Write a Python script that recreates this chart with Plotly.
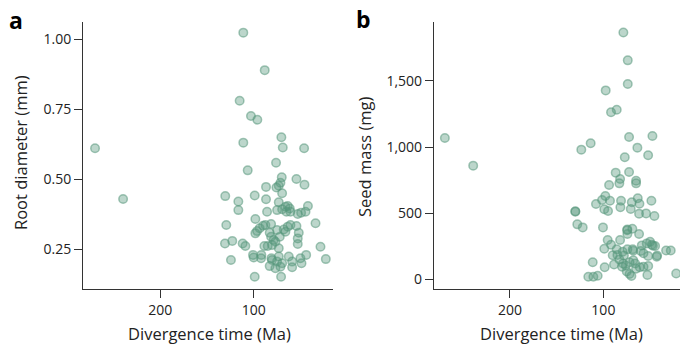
import plotly.graph_objects as go

# Panel a: divergence time (Ma) vs root diameter (mm)
a_time = [269.6, 239.6, 111.1, 88.2, 115.0, 102.9, 96.1, 111.1, 70.4, 68.9, 46.1,
          76.1, 106.4, 70.0, 71.4, 73.2, 54.3, 45.7, 86.8, 75.7, 130.4, 98.9, 86.8,
          116.4, 116.4, 69.6, 73.2, 75.0, 69.6, 66.0, 63.6, 61.4, 65.0, 60.7, 42.0,
          44.6, 52.9, 49.3, 85.7, 98.2, 33.9, 129.3, 81.4, 90.0, 93.6, 96.4, 98.2,
          87.5, 63.6, 60.7, 54.3, 51.8, 52.9, 67.9, 66.1, 75.0, 72.1, 82.9, 81.4,
          78.6, 76.8, 28.6, 130.7, 122.9, 111.8, 108.9, 88.6, 85.0, 80.4, 73.2, 52.9,
          124.3, 100.7, 100.0, 91.8, 92.1, 81.1, 80.4, 73.2, 75.0, 62.5, 58.9, 58.9,
          50.0, 48.9, 43.9, 22.9, 82.9, 76.8, 71.4, 69.6, 98.9, 70.7]
a_diam = [0.611, 0.430, 1.024, 0.890, 0.781, 0.726, 0.713, 0.631, 0.650, 0.614, 0.611,
          0.559, 0.532, 0.507, 0.488, 0.477, 0.501, 0.481, 0.473, 0.471, 0.440, 0.442, 0.429,
          0.421, 0.390, 0.450, 0.418, 0.390, 0.393, 0.402, 0.405, 0.396, 0.384, 0.384, 0.405,
          0.384, 0.376, 0.381, 0.384, 0.358, 0.343, 0.337, 0.340, 0.334, 0.325, 0.315, 0.307,
          0.337, 0.331, 0.337, 0.333, 0.309, 0.289, 0.321, 0.313, 0.319, 0.295, 0.309, 0.295,
          0.283, 0.277, 0.259, 0.271, 0.280, 0.271, 0.262, 0.262, 0.262, 0.265, 0.254, 0.269,
          0.212, 0.230, 0.221, 0.230, 0.218, 0.218, 0.212, 0.224, 0.206, 0.224, 0.206, 0.186,
          0.218, 0.200, 0.230, 0.215, 0.190, 0.182, 0.188, 0.200, 0.152, 0.152]

# Panel b: divergence time (Ma) vs seed mass (mg)
b_time = [269.6, 239.3, 78.6, 73.9, 73.9, 97.5, 85.7, 91.8, 113.6, 123.6, 72.5, 47.5,
          63.6, 52.1, 77.1, 86.8, 72.5, 82.1, 82.9, 93.9, 65.0, 65.0, 97.9, 101.4, 107.9,
          92.9, 99.0, 95.0, 81.1, 81.8, 69.6, 63.2, 61.4, 48.6, 70.7, 61.8, 54.3, 45.4,
          130.0, 130.0, 127.9, 122.1, 100.4, 74.3, 74.6, 69.0, 74.3, 61.8, 95.4, 82.1,
          91.8, 99.0, 85.7, 90.0, 79.3, 74.3, 68.6, 68.0, 58.9, 53.6, 50.0, 48.2, 44.6,
          42.9, 42.5, 57.1, 52.1, 32.9, 27.9, 111.4, 98.6, 116.1, 110.7, 106.1, 88.6,
          82.9, 85.0, 79.0, 76.0, 72.0, 68.0, 75.0, 72.0, 70.0, 65.0, 61.0, 57.0, 52.0,
          52.9, 22.1, 78.0, 66.0, 80.0, 60.0, 47.0]
b_mass = [1069, 860, 1866, 1656, 1477, 1429, 1283, 1263, 1029, 981, 1077, 1084,
          996, 938, 923, 807, 812, 759, 726, 714, 746, 726, 630, 600, 570,
          595, 530, 517, 595, 545, 583, 613, 572, 595, 532, 497, 499, 479,
          512, 515, 416, 393, 393, 378, 372, 383, 343, 343, 298, 298,
          262, 232, 227, 182, 209, 227, 227, 217, 257, 272, 285, 262, 252,
          171, 180, 197, 177, 219, 219, 129, 91, 20, 20, 28, 113,
          151, 184, 120, 105, 130, 145, 60, 40, 25, 80, 91, 96, 101,
          33, 45, 180, 120, 95, 215, 255]

fill = "rgba(88,152,124,0.40)"
edge = "rgba(88,152,124,0.55)"
FONT = "Open Sans, Roboto, Arial, sans-serif"
INK = "#222222"

fig = go.Figure()
for xs, ys, xa, ya in [(a_time, a_diam, "x", "y"), (b_time, b_mass, "x2", "y2")]:
    fig.add_trace(go.Scatter(
        x=xs, y=ys, xaxis=xa, yaxis=ya, mode="markers",
        marker=dict(size=8.5, color=fill, line=dict(color=edge, width=1.5)),
        showlegend=False, hoverinfo="skip"))

ydom = [0.163, 0.937]
axis_common = dict(showline=True, linecolor="#333333", linewidth=1, ticks="outside",
                   ticklen=8, tickwidth=1, tickcolor="#333333", showgrid=False,
                   zeroline=False, tickfont=dict(family=FONT, size=14, color=INK))

fig.update_layout(
    width=680, height=345,
    margin=dict(l=0, r=0, t=0, b=0),
    paper_bgcolor="white", plot_bgcolor="white",
    xaxis=dict(domain=[0.122, 0.490], range=[282.5, 15], tickvals=[200, 100],
               anchor="y", **axis_common),
    yaxis=dict(domain=ydom, range=[0.109, 1.063], tickvals=[0.25, 0.5, 0.75, 1.0],
               tickformat=".2f", anchor="x", **axis_common),
    xaxis2=dict(domain=[0.638, 1.0], range=[281.4, 18], tickvals=[200, 100],
                anchor="y2", **axis_common),
    yaxis2=dict(domain=ydom, range=[-71, 1948], tickvals=[0, 500, 1000, 1500],
                tickformat=",", anchor="x2", **axis_common),
)

ann = [
    dict(text="<b>a</b>", x=16 / 680, y=1 - 20 / 345, font=dict(size=23)),
    dict(text="<b>b</b>", x=363 / 680, y=1 - 19 / 345, font=dict(size=23)),
    dict(text="Divergence time (Ma)", x=209 / 680, y=1 - 333 / 345, font=dict(size=16.5)),
    dict(text="Divergence time (Ma)", x=561 / 680, y=1 - 333 / 345, font=dict(size=16.5)),
    dict(text="Root diameter (mm)", x=20 / 680, y=1 - 153 / 345, font=dict(size=16.5), textangle=-90),
    dict(text="Seed mass (mg)", x=364 / 680, y=1 - 157 / 345, font=dict(size=16.5), textangle=-90),
]
for a in ann:
    a["font"].update(family=FONT, color=INK if "<b>" not in a["text"] else "#000000")
    fig.add_annotation(xref="paper", yref="paper", showarrow=False,
                       xanchor="center", yanchor="middle", **a)

fig.write_html("out.html")
